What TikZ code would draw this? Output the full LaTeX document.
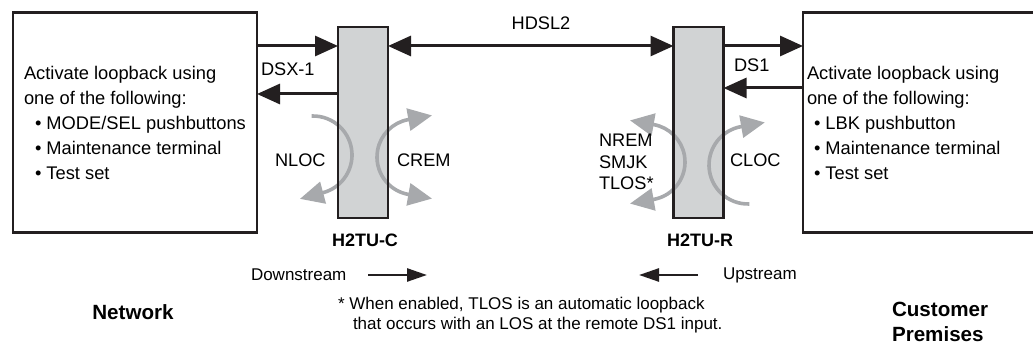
\documentclass[tikz,border=0pt]{standalone}
\usepackage{fontspec}
\setmainfont{Liberation Sans}
\usetikzlibrary{arrows.meta,calc}

\definecolor{ink}{HTML}{231F20}
\definecolor{unitgray}{HTML}{D1D3D4}
\definecolor{loopgray}{HTML}{A7A9AC}

\newcommand\boxfont{\fontsize{18.3}{25}\selectfont}
\newcommand\lblfont{\fontsize{18.2}{21.5}\selectfont}
\newcommand\notefont{\fontsize{17}{20}\selectfont}
\newcommand\unitfont{\fontsize{18}{22}\selectfont\bfseries}
\newcommand\sitefont{\fontsize{20.6}{25}\selectfont\bfseries}

\begin{document}
\begin{tikzpicture}[x=1pt,y=1pt]
\tikzstyle{every node}=[inner sep=0pt, outer sep=0pt]
\tikzstyle{frame}=[draw=ink, line width=2.4pt, minimum height=220pt, align=flush left, font=\boxfont]
\tikzstyle{unit}=[fill=unitgray, minimum width=50pt, minimum height=191pt]
\tikzstyle{sig}=[draw=ink, line width=3pt, >={Triangle[length=23pt,width=20pt]}]
\tikzstyle{flow}=[draw=ink, line width=2.6pt, >={Triangle[length=20pt,width=13pt]}]
\tikzstyle{loopc}=[draw=loopgray, line width=3.6pt, >={Triangle[length=24pt,width=22pt]}]
\useasboundingbox (0,0) rectangle (1033,345);
\clip (0,0) rectangle (1033,345);

% end boxes
\draw (135,222.5) node (netbox) [frame, minimum width=244pt, text width=222pt] {Activate loopback using\\one of the following:\\\hspace*{11pt}• MODE/SEL pushbuttons\\\hspace*{11pt}• Maintenance terminal\\\hspace*{11pt}• Test set};
\draw (923,222.5) node (cpbox) [frame, minimum width=240pt, text width=232pt] {Activate loopback using\\one of the following:\\\hspace*{7pt}• LBK pushbutton\\\hspace*{7pt}• Maintenance terminal\\\hspace*{7pt}• Test set};

% line units
\draw (363,222.5) node (h2tuc) [unit] {};
\draw (698.5,222.5) node (h2tur) [unit] {};

% loopback arcs
\coordinate (nloc) at (313,190);
\coordinate (crem) at (415,188);
\coordinate (nrem) at (647,183);
\coordinate (cloc) at (748,180);
\draw[loopc,->] ($(nloc)+(92:39)$) arc[start angle=92, end angle=-75, radius=39] -- ++(-165:24);
\draw[loopc,<->] ($(crem)+(260:38)+(-10:24)$) -- ($(crem)+(260:38)$) arc[start angle=260, end angle=100, radius=38] -- ++(10:24);
\draw[loopc,<->] ($(nrem)+(-80:38)+(190:24)$) -- ($(nrem)+(-80:38)$) arc[start angle=-80, end angle=80, radius=38] -- ++(170:24);
\draw[loopc,->] ($(cloc)+(272:39)$) arc[start angle=272, end angle=100, radius=39] -- ++(10:24);

\draw[ink, line width=2.4pt] (h2tuc.south west) rectangle (h2tuc.north east);
\draw[ink, line width=2.4pt] (h2tur.south west) rectangle (h2tur.north east);

% signal lines
\draw[sig,->] (netbox.east |- 0,299) -- (h2tuc.west |- 0,299);
\draw[sig,->] (h2tuc.west |- 0,251) -- (netbox.east |- 0,251);
\draw[sig,<->] (h2tuc.east |- 0,299) -- (h2tur.west |- 0,299);
\draw[sig,->] (h2tur.east |- 0,299) -- (cpbox.west |- 0,299);
\draw[sig,->] (cpbox.west |- 0,257) -- (h2tur.east |- 0,257);

\draw (261,276) node (dsx) [anchor=west, font=\lblfont] {DSX-1};
\draw (541,322) node (hdsl) [font=\lblfont] {HDSL2};
\draw (734,280) node (ds1) [anchor=west, font=\lblfont] {DS1};
\draw (275,185) node (nloclbl) [anchor=west, font=\lblfont] {NLOC};
\draw (397,185) node (cremlbl) [anchor=west, font=\lblfont] {CREM};
\draw (599,183) node (nremlbl) [anchor=west, align=left, font=\lblfont] {NREM\\SMJK\\TLOS*};
\draw (730,185) node (cloclbl) [anchor=west, font=\lblfont] {CLOC};
\draw (365,105) node (h2tuclbl) [font=\unitfont] {H2TU-C};
\draw (700,105) node (h2turlbl) [font=\unitfont] {H2TU-R};

% direction
\draw (251,70) node (down) [anchor=west, font=\notefont] {Downstream};
\draw (723,70) node (up) [anchor=west, font=\notefont] {Upstream};
\coordinate (downA) at (368,70);
\coordinate (downB) at (427,70);
\coordinate (upA) at (698,70);
\coordinate (upB) at (639,70);
\draw[flow,->] (downA) -- (downB);
\draw[flow,->] (upA) -- (upB);

\draw (338,30) node (note) [anchor=west, align=left, font=\notefont] {* When enabled, TLOS is an automatic loopback\\\hspace*{15pt}that occurs with an LOS at the remote DS1 input.};
\draw (133,33) node (net) [font=\sitefont] {Network};
\draw (892,23.5) node (cust) [anchor=west, align=left, font=\sitefont] {Customer\\Premises};
\end{tikzpicture}
\end{document}
